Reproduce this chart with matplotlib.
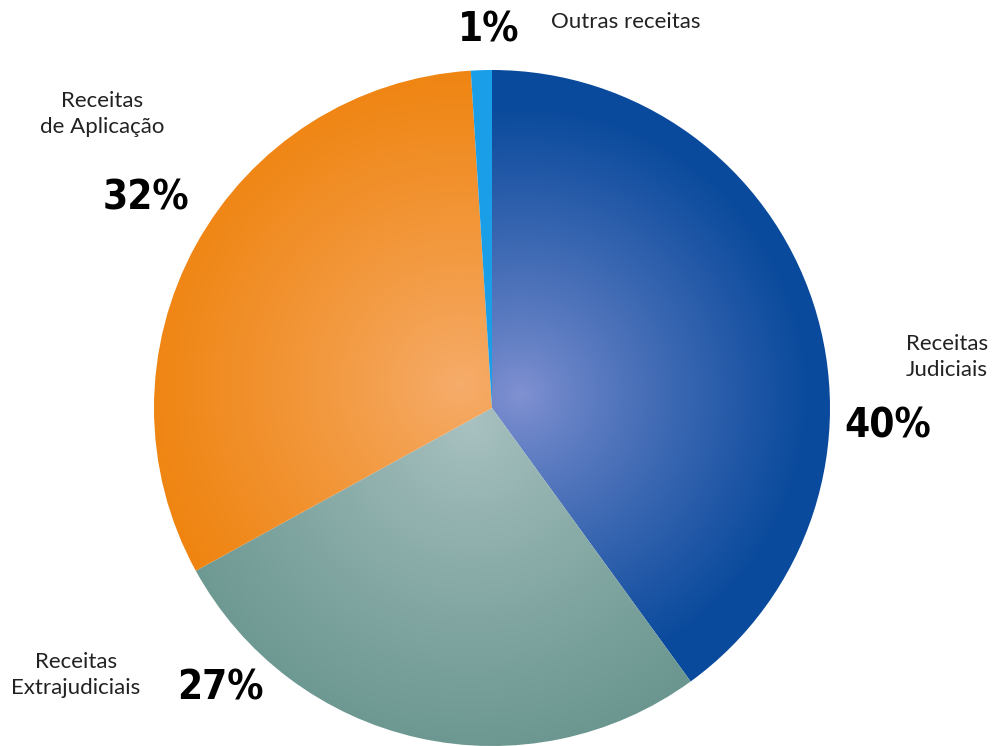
import numpy as np
import matplotlib
matplotlib.use("Agg")
import matplotlib.pyplot as plt
from matplotlib.colors import to_rgb

# Data
categories = ["Receitas Judiciais", "Receitas Extrajudiciais", "Receitas de Aplicação", "Outras receitas"]
values = [40, 27, 32, 1]
pct_labels = ["40%", "27%", "32%", "1%"]
name_labels = ["Receitas\nJudiciais", "Receitas\nExtrajudiciais", "Receitas\nde Aplicação", "Outras receitas"]

# Style: (dark edge colour, light centre colour)
grad_colors = [("#0a4a9c", "#8292d2"), ("#6a968f", "#a9c2c1"), ("#ef8410", "#f6ad6c"), ("#1a9ee8", "#1a9ee8")]

W, H = 992, 746
fig = plt.figure(figsize=(W / 100, H / 100), dpi=100)
ax = fig.add_axes([0, 0, 1, 1])
ax.set_xlim(0, W)
ax.set_ylim(0, H)

cx, cy, R = 492, H - 408, 338
wedges, _ = ax.pie(values, startangle=90, counterclock=False, center=(cx, cy), radius=R,
                   frame=True, wedgeprops=dict(linewidth=0))
ax.set_aspect("equal")
ax.axis("off")

yy, xx = np.mgrid[0:H, 0:W]
foci = [(520, H - 395), (470, H - 425), (460, H - 385), (cx, cy)]
scales = [0.85, 1.0, 0.95, 1.0]
for w, (dark, light), (fx, fy), s in zip(wedges, grad_colors, foci, scales):
    d = np.hypot(xx - fx, yy - fy) / (R * s)
    t = np.clip(d, 0, 1) ** 0.85
    c0 = np.array(to_rgb(light)); c1 = np.array(to_rgb(dark))
    img = c0[None, None, :] * (1 - t[..., None]) + c1[None, None, :] * t[..., None]
    w.set_facecolor("none")
    im = ax.imshow(img, extent=(0, W, 0, H), origin="lower", zorder=1, interpolation="bilinear")
    im.set_clip_path(w)
ax.set_xlim(0, W)
ax.set_ylim(0, H)

pct_font = dict(family="DejaVu Sans", fontweight="heavy", fontstretch="condensed", fontsize=29,
                color="black", ha="center", va="center")
lab_font = dict(family="Lato", fontsize=16, color="#222222", linespacing=1.4)

# percentage labels
ax.text(888, H - 426, pct_labels[0], **pct_font)
ax.text(220, H - 689, pct_labels[1], **pct_font)
ax.text(146, H - 198, pct_labels[2], **pct_font)
ax.text(489, H - 30, pct_labels[3], **pct_font)

# category labels
ax.text(988, H - 357, name_labels[0], ha="right", va="center", multialignment="right", **lab_font)
ax.text(76, H - 675, name_labels[1], ha="center", va="center", multialignment="center", **lab_font)
ax.text(102, H - 114, name_labels[2], ha="center", va="center", multialignment="center", **lab_font)
ax.text(551, H - 22, name_labels[3], ha="left", va="center", **lab_font)

fig.savefig("out.png", dpi=100)
